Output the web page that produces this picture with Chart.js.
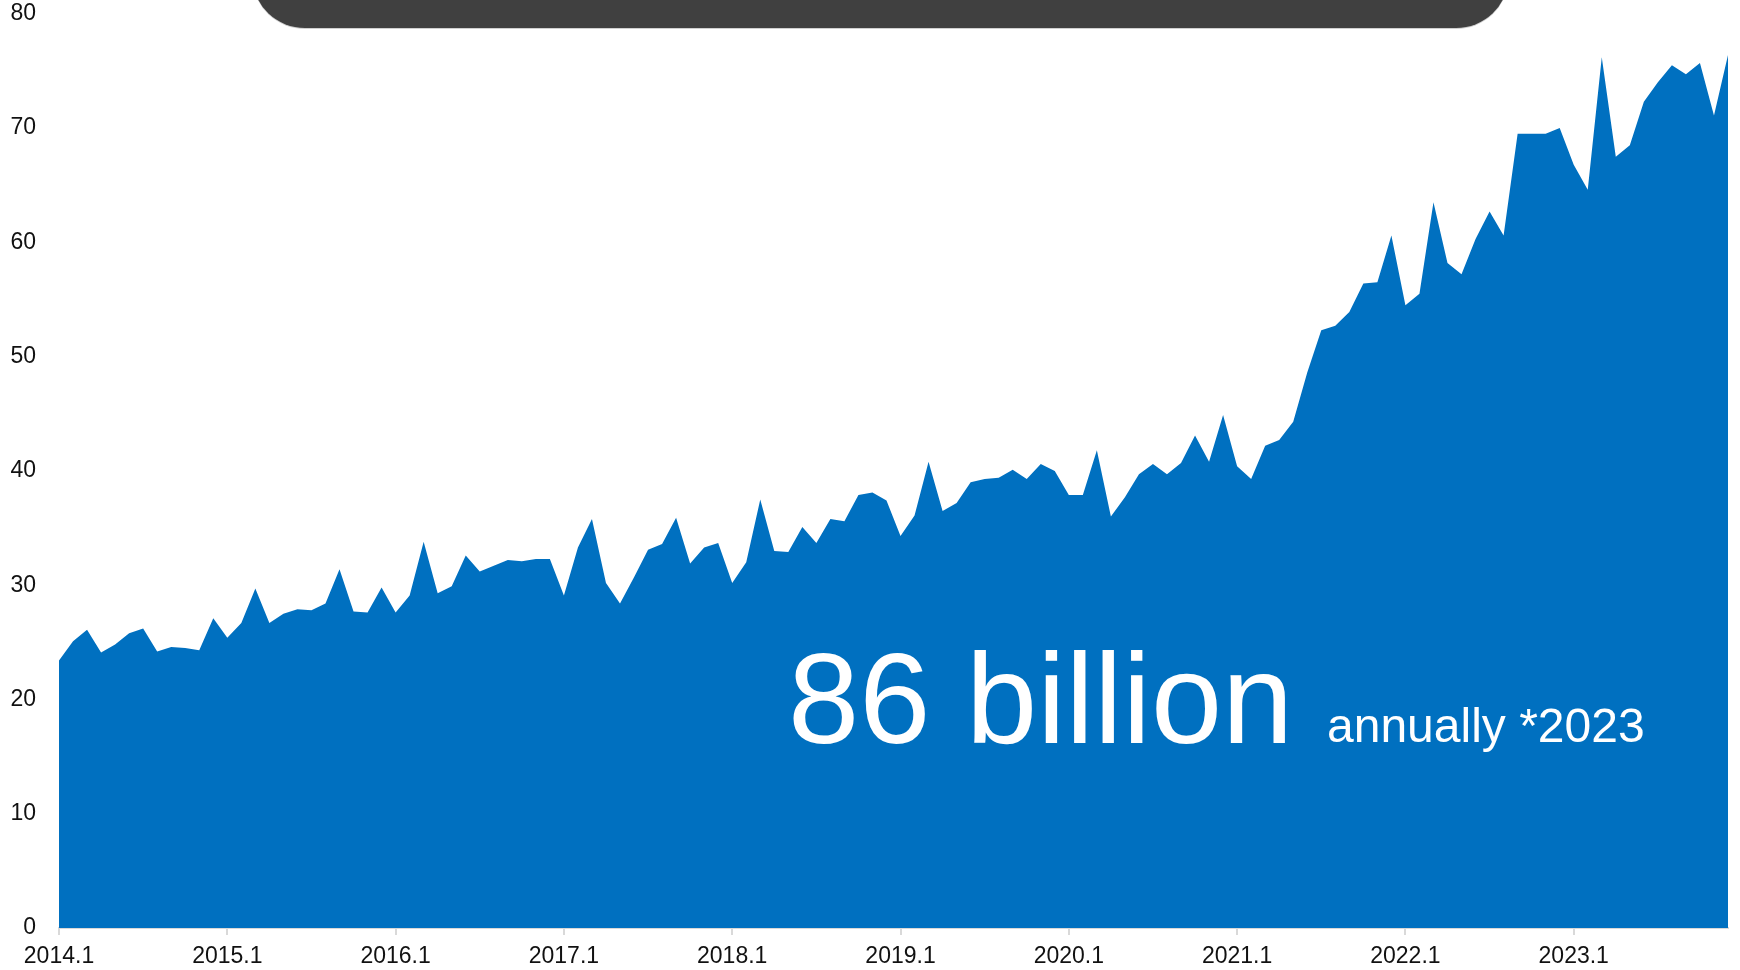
<!DOCTYPE html>
<html>
<head>
<meta charset="utf-8">
<title>Monthly volume 2014-2023</title>
<script src="https://cdn.jsdelivr.net/npm/chart.js@4"></script>
<style>
  html, body { margin: 0; padding: 0; background: #fff; }
  #wrap { position: relative; width: 1740px; height: 970px; overflow: hidden; }
  #banner {
    position: absolute; left: 253px; width: 1255px; top: -52px; height: 80px;
    background: #404040;
    border-radius: 0 0 52px 52px / 0 0 50px 50px;
    box-shadow: 0 1px 0 #d0d0d0;
  }
</style>
</head>
<body>
<div id="wrap">
  <canvas id="chart" width="1740" height="970"></canvas>
  <div id="banner"></div>
</div>
<script>
// monthly values, one array per year (Jan..Dec)
const years = [2014, 2015, 2016, 2017, 2018, 2019, 2020, 2021, 2022, 2023];
const values2014 = [23.4, 25.1, 26.1, 24.1, 24.8, 25.8, 26.2, 24.2, 24.6, 24.5, 24.3, 27.1];
const values2015 = [25.4, 26.7, 29.7, 26.7, 27.5, 27.9, 27.8, 28.4, 31.4, 27.7, 27.6, 29.8];
const values2016 = [27.6, 29.1, 33.8, 29.3, 29.9, 32.6, 31.2, 31.7, 32.2, 32.1, 32.3, 32.3];
const values2017 = [29.1, 33.3, 35.8, 30.2, 28.4, 30.7, 33.1, 33.6, 35.9, 31.9, 33.3, 33.7];
const values2018 = [30.2, 32.0, 37.5, 33.0, 32.9, 35.1, 33.7, 35.8, 35.6, 37.9, 38.1, 37.4];
const values2019 = [34.3, 36.1, 40.8, 36.5, 37.2, 39.0, 39.3, 39.4, 40.1, 39.3, 40.6, 40.0];
const values2020 = [37.9, 37.9, 41.8, 36.0, 37.7, 39.7, 40.6, 39.7, 40.7, 43.1, 40.8, 44.9];
const values2021 = [40.4, 39.3, 42.2, 42.7, 44.3, 48.6, 52.3, 52.7, 53.9, 56.4, 56.5, 60.6];
const values2022 = [54.5, 55.5, 63.5, 58.2, 57.2, 60.3, 62.7, 60.6, 69.5, 69.5, 69.5, 70.0];
const values2023 = [66.8, 64.6, 76.2, 67.5, 68.5, 72.3, 74.0, 75.5, 74.7, 75.7, 71.1, 76.4];
const yTicks = [0, 10, 20, 30, 40, 50, 60, 70, 80];

const headline = "86 billion";
const subline = "annually *2023";

const yearly = [values2014, values2015, values2016, values2017, values2018,
                values2019, values2020, values2021, values2022, values2023];

const labels = [];
const values = [];
years.forEach((y, yi) => {
    yearly[yi].forEach((v, m) => {
        labels.push(y + "." + (m + 1));
        values.push(v);
    });
});

const FONT = "'Liberation Sans', Arial, Helvetica, sans-serif";

// big white caption drawn over the filled area
const captionPlugin = {
    id: "caption",
    afterDatasetsDraw(chart) {
        const ctx = chart.ctx;
        ctx.save();
        ctx.fillStyle = "#ffffff";
        ctx.textBaseline = "alphabetic";
        ctx.textAlign = "left";
        ctx.font = "128px " + FONT;
        ctx.fillText(headline, 788, 743);
        ctx.font = "48px " + FONT;
        ctx.fillText(subline, 1327, 742);
        ctx.restore();
    }
};

new Chart(document.getElementById("chart"), {
    type: "line",
    data: {
        labels: labels,
        datasets: [{
            data: values,
            fill: "origin",
            backgroundColor: "#0070C0",
            borderWidth: 0,
            pointRadius: 0,
            tension: 0
        }]
    },
    options: {
        responsive: false,
        animation: false,
        layout: { padding: { top: 0, right: 12, bottom: 0, left: 0 } },
        plugins: {
            legend: { display: false },
            tooltip: { enabled: false }
        },
        scales: {
            x: {
                type: "category",
                offset: false,
                grid: {
                    display: true,
                    drawOnChartArea: false,
                    drawTicks: true,
                    tickLength: 7,
                    color: "#d9d9d9",
                    lineWidth: 2
                },
                border: { display: true, color: "#d9d9d9", width: 2 },
                ticks: {
                    autoSkip: false,
                    maxRotation: 0,
                    padding: 8,
                    color: "#111",
                    font: { family: FONT, size: 23 },
                    callback(val) {
                        const lab = this.getLabelForValue(val);
                        return lab.endsWith(".1") ? lab : null;
                    }
                },
                afterFit(scale) { scale.height = 42; }
            },
            y: {
                min: yTicks[0],
                max: yTicks[yTicks.length - 1],
                // hidden grid; tickLength only keeps labels away from the area
                grid: { display: false, tickLength: 23 },
                border: { display: false },
                ticks: {
                    stepSize: 10,
                    padding: 0,
                    color: "#111",
                    font: { family: FONT, size: 23 }
                },
                afterFit(scale) { scale.width = 59; }
            }
        }
    },
    plugins: [captionPlugin]
});
</script>
</body>
</html>
